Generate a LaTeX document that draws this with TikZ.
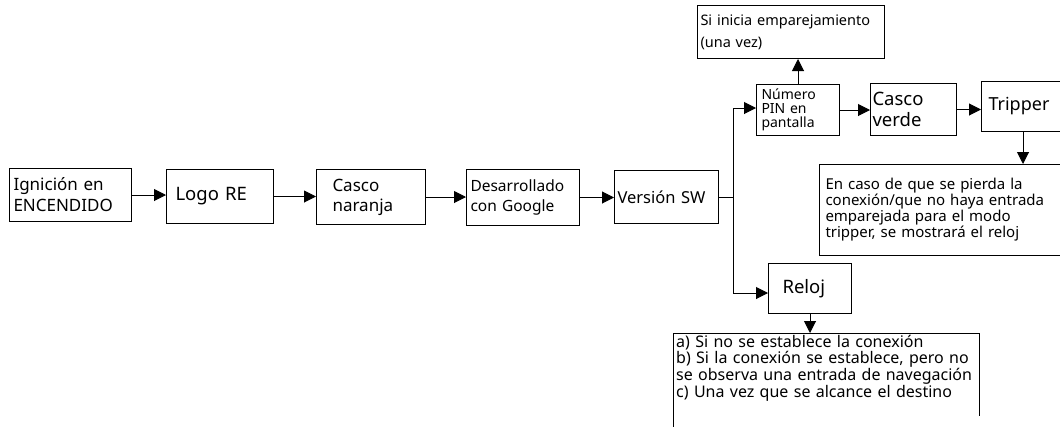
\documentclass[tikz,border=0pt]{standalone}
\usepackage{fontspec}
\setmainfont{Noto Sans}
\usetikzlibrary{arrows.meta}
\tikzset{
  bx/.style={draw, line width=1pt, anchor=north west, align=left, inner ysep=0pt},
  arr/.style={line width=1pt, -{Triangle[length=12pt,width=12pt]}},
  ln/.style={line width=1pt},
}
\newcommand{\fs}[2]{\fontsize{#1}{#2}\selectfont}
\begin{document}
\begin{tikzpicture}[x=1pt,y=-1pt]
\useasboundingbox (0,0) rectangle (1060,426);
\clip (0,0) rectangle (1060,426);
\node[bx, minimum width=122, minimum height=53, inner xsep=4, text width=114, font=\fs{17}{21}] (b1) at (9,168) {Ignición en\\ENCENDIDO};
\node[bx, minimum width=107, minimum height=54, inner xsep=9, text width=89, font=\fs{18.5}{22}] (b2) at (166,169) {Logo RE};
\node[bx, minimum width=109, minimum height=55, inner xsep=16, text width=77, font=\fs{17}{20}] (b3) at (316,169) {Casco\\naranja};
\node[bx, minimum width=113, minimum height=56, inner xsep=4, text width=105, font=\fs{15.5}{20}] (b4) at (466,169) {Desarrollado\\con Google};
\node[bx, minimum width=104, minimum height=53, inner xsep=3, text width=98, font=\fs{16.5}{20}] (b5) at (614,170) {Versión SW};
\node[bx, minimum width=83, minimum height=51, inner xsep=5, text width=73, font=\fs{14}{14}] (pin) at (756,84) {Número\\PIN en\\pantalla};
\node[bx, minimum width=187, minimum height=53, inner xsep=3, text width=181, font=\fs{14.5}{22}] (si) at (697,5) {Si inicia emparejamiento\\(una vez)};
\node[bx, minimum width=86, minimum height=52, inner xsep=2, text width=82, font=\fs{18.5}{21}] (cv) at (870,83) {Casco\\verde};
\node[bx, minimum width=100, minimum height=50, inner xsep=7, text width=86, font=\fs{18}{22}] (trip) at (981,81) {Tripper};
\node[bx, minimum width=260, minimum height=91, inner xsep=6, text width=248, font=\fs{15}{14.7}] (enc) at (819,164) {En caso de que se pierda la\\conexión/que no haya entrada\\emparejada para el modo\\tripper, se mostrará el reloj};
\node[bx, minimum width=83, minimum height=50, inner xsep=14, text width=55, font=\fs{18.5}{22}] (reloj) at (768,263) {Reloj};
\coordinate (botTL) at (673,333);
\coordinate (botTR) at (979,333);
\coordinate (botBL) at (673,430);
\coordinate (botBR) at (979,416);
\draw[ln] (botBL) -- (botTL) -- (botTR) -- (botBR);
\node[anchor=north west, align=left, inner xsep=3, inner ysep=2, text width=300, font=\fs{16}{14.3}] (bot) at (botTL) {a) Si no se establece la conexión\\b) Si la conexión se establece, pero no\\se observa una entrada de navegación\\c) Una vez que se alcance el destino};
\coordinate (tT) at (733,108);
\coordinate (tB) at (733,293);
\coordinate (tx) at (1023,0);
\draw[arr] (b1.east) -- (b1.east -| b2.west);
\draw[arr] (b2.east) -- (b2.east -| b3.west);
\draw[arr] (b3.east) -- (b3.east -| b4.west);
\draw[arr] (b4.east) -- (b4.east -| b5.west);
\draw[ln] (b5.east) -- (b5.east -| tT);
\draw[arr] (tB) -- (tT) -- (tT -| pin.west);
\draw[arr] (tT) -- (tB) -- (tB -| reloj.west);
\draw[arr] (pin.north) -- (pin.north |- si.south);
\draw[arr] (pin.east) -- (pin.east -| cv.west);
\draw[arr] (cv.east) -- (cv.east -| trip.west);
\draw[arr] (trip.south -| tx) -- (enc.north -| tx);
\draw[arr] (reloj.south) -- (reloj.south |- botTL);
\end{tikzpicture}
\end{document}
